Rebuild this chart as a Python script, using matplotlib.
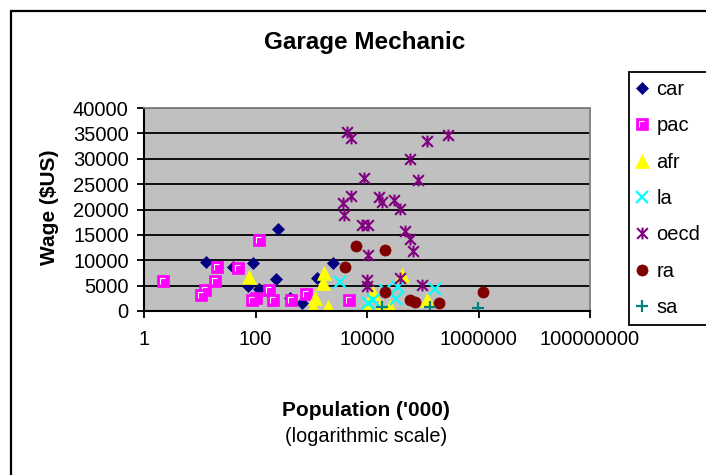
import matplotlib
matplotlib.use('Agg')
import matplotlib.pyplot as plt
from matplotlib.path import Path
from matplotlib.lines import Line2D
from matplotlib.patches import Rectangle
from matplotlib.ticker import NullLocator

plt.rcParams['font.family'] = ['Liberation Sans', 'DejaVu Sans']

# population ('000) and wage ($US) by region
car_pop = [12.8, 39.5, 91, 250, 233, 74, 114, 408, 680, 1260, 2480]
car_wage = [9700, 8700, 9400, 16100, 6400, 4900, 4400, 2500, 1600, 6450, 9400]

pac_pop = [2.2, 20, 18.8, 12.4, 10.5, 49.5, 116, 174, 100, 86.5, 203, 435, 805, 4850]
pac_wage = [6000, 8700, 6000, 4200, 3200, 8400, 13900, 4200, 2500, 2100, 2100, 2100, 3350, 2100]

afr_pop = [77, 1710, 1640, 1170, 1090, 2020, 9880, 13000, 17000, 25800, 41900, 118000]
afr_wage = [6650, 7550, 5600, 2500, 850, 850, 850, 3500, 800, 850, 7100, 2200]

la_pop = [3280, 10550, 13000, 21000, 36000, 32500, 166000]
la_wage = [5800, 1500, 2200, 4050, 4800, 2400, 4250]

oecd_pop = [4330, 5250, 280000, 121000, 59800, 8720, 81000, 5100, 3720, 3870,
            16600, 18400, 30000, 39000, 8300, 10300, 49000, 59200, 65500,
            10300, 10000, 10000, 39000, 96000]
oecd_wage = [35200, 34000, 34700, 33400, 30000, 26300, 25800, 22700, 21200, 18900,
             22400, 21500, 21950, 20100, 16900, 16900, 15800, 14200, 11900,
             10950, 6200, 4950, 6450, 5050]

ra_pop = [6350, 21000, 4030, 21000, 59200, 72700, 198000, 1180000]
ra_wage = [12900, 12100, 8750, 3650, 2250, 1700, 1500, 3650]

sa_pop = [18600, 135000, 968000]
sa_wage = [700, 700, 500]

labels = ['car', 'pac', 'afr', 'la', 'oecd', 'ra', 'sa']

# excel style star: an x with a vertical bar through it
star = Path([(-1, -1), (1, 1), (-1, 1), (1, -1), (0, -1.1), (0, 1.1)],
            [Path.MOVETO, Path.LINETO, Path.MOVETO, Path.LINETO, Path.MOVETO, Path.LINETO])
# white highlight inside the pac squares
corner = Path([(-1, -1), (1, 1), (-0.5, -0.55), (-0.5, 0.5), (0.35, 0.5)],
              [Path.MOVETO, Path.MOVETO, Path.MOVETO, Path.LINETO, Path.LINETO])

W, H = 706, 475
fig = plt.figure(figsize=(W / 100, H / 100), dpi=100)
fig.patch.set_facecolor('white')

ax = fig.add_axes([144 / W, (H - 311) / H, 446 / W, 203 / H])
ax.set_facecolor('#C0C0C0')
ax.set_xscale('log')
ax.set_xlim(1, 1e8)
ax.set_ylim(0, 40000)

styles = {
    'car': dict(marker='D', ms=6.3, mfc='#000080', mec='#000080', mew=0.5),
    'afr': dict(marker='^', ms=9.5, mfc='#FFFF00', mec='#FFFF00', mew=0.5),
    'la': dict(marker='x', ms=8, mec='#00FFFF', mew=1.6),
    'oecd': dict(marker=star, ms=8.5, mfc='none', mec='#800080', mew=1.5),
    'ra': dict(marker='o', ms=8, mfc='#800000', mec='#800000', mew=0.5),
    'sa': dict(marker='+', ms=8.5, mec='#008080', mew=1.6),
}
pac_sq = dict(marker='s', ms=8.5, mfc='#FF00FF', mec='#FF00FF', mew=0.5)
pac_mark = dict(marker=corner, ms=8.5, mfc='none', mec='white', mew=0.8)

ax.plot(car_pop, car_wage, ls='none', **styles['car'])
for x, y in zip(pac_pop, pac_wage):
    ax.plot([x], [y], ls='none', **pac_sq)
    ax.plot([x], [y], ls='none', **pac_mark)
ax.plot(afr_pop, afr_wage, ls='none', **styles['afr'])
ax.plot(la_pop, la_wage, ls='none', **styles['la'])
ax.plot(oecd_pop, oecd_wage, ls='none', **styles['oecd'])
ax.plot(ra_pop, ra_wage, ls='none', **styles['ra'])
ax.plot(sa_pop, sa_wage, ls='none', **styles['sa'])

ax.set_xticks([1, 100, 1e4, 1e6, 1e8])
ax.set_xticklabels(['1', '100', '10000', '1000000', '100000000'])
ax.xaxis.set_minor_locator(NullLocator())
ax.set_yticks(range(0, 40001, 5000))
ax.set_yticklabels([str(v) for v in range(0, 40001, 5000)])
ax.tick_params(axis='both', direction='out', length=5, width=1.3, labelsize=14.5, color='black')
ax.tick_params(axis='x', pad=9)
ax.tick_params(axis='y', pad=6)
ax.yaxis.grid(True, color='black', lw=1.3)
ax.set_axisbelow(True)
for s in ['left', 'bottom']:
    ax.spines[s].set_color('black')
    ax.spines[s].set_linewidth(1.5)
for s in ['top', 'right']:
    ax.spines[s].set_color('#808080')
    ax.spines[s].set_linewidth(1.3)

fig.text(365 / W, 1 - 42 / H, 'Garage Mechanic', ha='center', va='center',
         fontsize=17.5, fontweight='bold')
fig.text(49.5 / W, 1 - 207 / H, 'Wage ($US)', ha='center', va='center',
         rotation=90, fontsize=15, fontweight='bold')
fig.text(366 / W, 1 - 410 / H, "Population ('000)", ha='center', va='center',
         fontsize=15, fontweight='bold')
fig.text(366 / W, 1 - 437 / H, '(logarithmic scale)', ha='center', va='center',
         fontsize=14.3)

# legend
handles = [
    Line2D([], [], ls='none', **styles['car']),
    (Line2D([], [], ls='none', **pac_sq), Line2D([], [], ls='none', **pac_mark)),
    Line2D([], [], ls='none', **styles['afr']),
    Line2D([], [], ls='none', **styles['la']),
    Line2D([], [], ls='none', **styles['oecd']),
    Line2D([], [], ls='none', **styles['ra']),
    Line2D([], [], ls='none', **styles['sa']),
]
leg = fig.legend(handles, labels, loc='upper left', bbox_to_anchor=(629 / W, 1 - 72 / H),
                 frameon=True, fancybox=False, edgecolor='black', framealpha=1,
                 borderaxespad=0, borderpad=0.4, handlelength=0.47, handletextpad=0.48,
                 labelspacing=0.86, fontsize=14.5)
leg.get_frame().set_linewidth(1.3)

# chart area border
fig.patches.append(Rectangle((10.5 / W, -0.2), 2, 1.2 - 10.5 / H, transform=fig.transFigure,
                             fill=False, edgecolor='black', lw=1.6, clip_on=False))

fig.savefig('out.png', dpi=100)
